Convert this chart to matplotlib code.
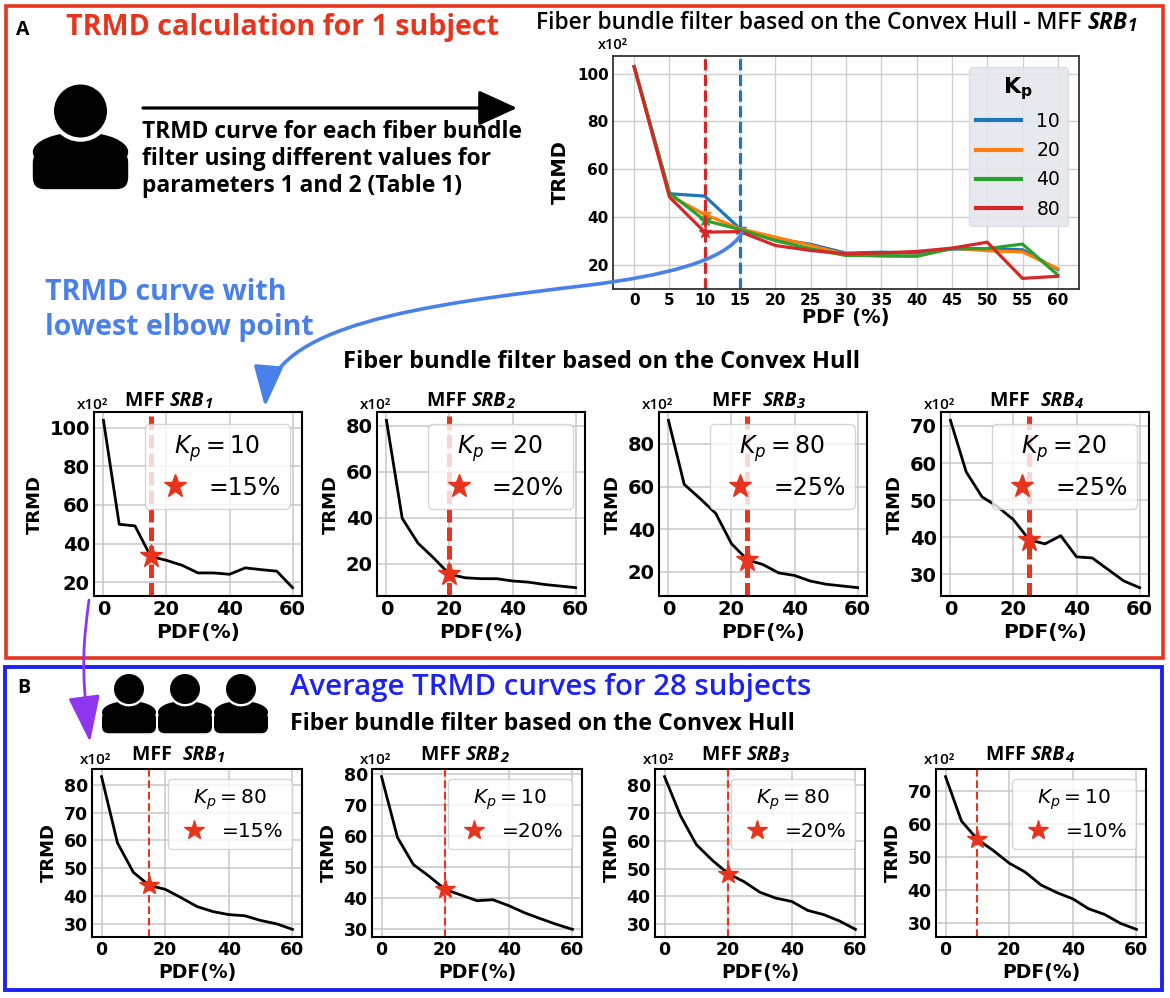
import numpy as np
import matplotlib.pyplot as plt
from matplotlib.patches import Rectangle, Circle, Ellipse, FancyBboxPatch, FancyArrowPatch
from matplotlib.path import Path
from matplotlib.lines import Line2D

W, H = 1170, 998
RED = '#e8341c'
TXT_FONT = 'Open Sans'

# PDF (%) values shared by every curve
pdf = [0, 5, 10, 15, 20, 25, 30, 35, 40, 45, 50, 55, 60]

# top chart: TRMD (x10^2) for each Kp, one subject, MFF SRB1
kp_values = [10, 20, 40, 80]
kp_colors = ['#1f77b4', '#ff7f0e', '#2ca02c', '#d62728']
trmd_kp10 = [103, 49.7, 48.7, 35, 30.8, 28.5, 24.8, 25.2, 24.8, 26.5, 26.6, 26.2, 17.9]
trmd_kp20 = [103, 49, 41, 35, 31.5, 28, 24.2, 23.5, 23.5, 26.9, 25.8, 25.3, 18.3]
trmd_kp40 = [103, 50, 38.5, 34.7, 30, 26.6, 23.8, 23.8, 23.5, 26.7, 26.7, 28.6, 15.6]
trmd_kp80 = [102.8, 48.3, 33.6, 33.8, 28, 25.9, 24.5, 24.9, 25.5, 26.9, 29.4, 14.2, 15.1]
kp_elbow = [15, 10, 10, 10]
top_vlines = [10, 15]
top_vline_colors = ['#d62728', '#1f77b4']

# panel A: best curve per MFF, one subject
a_bundles = ['1', '2', '3', '4']
a_kp = [10, 20, 80, 20]
a_elbow = [15, 20, 25, 25]
a_trmd = [
    [103.7, 50, 49.2, 33.4, 31.4, 28.8, 24.9, 24.9, 24.2, 27.5, 26.6, 25.8, 17.3],
    [82.4, 39.7, 28.9, 22.4, 15.3, 13.8, 13.4, 13.4, 12.4, 11.9, 10.9, 10.2, 9.5],
    [91, 61, 54.4, 47.4, 33.2, 25.7, 23.4, 19.5, 18.3, 15.7, 14.2, 13.4, 12.6],
    [71.5, 57.6, 50.9, 48.2, 44.7, 39.3, 38.2, 40.4, 34.7, 34.4, 31.3, 28.2, 26.4],
]
a_yticks = [[20, 40, 60, 80, 100], [20, 40, 60, 80], [20, 40, 60, 80], [30, 40, 50, 60, 70]]

# panel B: average curves for 28 subjects
b_bundles = ['1', '2', '3', '4']
b_kp = [80, 10, 80, 10]
b_elbow = [15, 20, 20, 10]
b_trmd = [
    [82.9, 59.1, 48.5, 43.8, 42.4, 39.4, 36.2, 34.4, 33.3, 32.9, 31.2, 30, 28],
    [79, 59.5, 50.8, 47, 42.8, 41, 39.2, 39.5, 37.6, 35.3, 33.4, 31.6, 30],
    [83, 69, 58.6, 53, 48.2, 45.3, 41.5, 39.4, 38.2, 35, 33.5, 31.2, 28.2],
    [74.3, 60.9, 55.4, 52, 48.2, 45.5, 41.6, 39.3, 37.4, 34.4, 32.7, 30, 28.2],
]
b_yticks = [[30, 40, 50, 60, 70, 80]] * 3 + [[30, 40, 50, 60, 70]]


def rect(left, top, right, bottom):
    return [left / W, 1 - bottom / H, (right - left) / W, (bottom - top) / H]


def bold_ticks(ax):
    for lab in ax.get_xticklabels() + ax.get_yticklabels():
        lab.set_fontweight('bold')


fig = plt.figure(figsize=(W / 100, H / 100), dpi=100)

# ---- top chart
ax = fig.add_axes(rect(613, 56, 1079, 289))
curves = [trmd_kp10, trmd_kp20, trmd_kp40, trmd_kp80]
for kp, col, y, el in zip(kp_values, kp_colors, curves, kp_elbow):
    ax.plot(pdf, y, color=col, lw=2.3, label=str(kp))
    ax.plot(el, y[pdf.index(el)], marker='*', ms=9, color=col, ls='none')
for xv, col in zip(top_vlines, top_vline_colors):
    ax.axvline(xv, color=col, lw=2.3, ls=(0, (3.5, 1.4)))
ax.set_xticks(pdf)
ax.set_yticks([20, 40, 60, 80, 100])
ax.grid(True, color='#cfcfcf', lw=1)
ax.set_axisbelow(True)
ax.tick_params(length=0, labelsize=11, pad=3)
bold_ticks(ax)
ax.set_xlabel('PDF (%)', fontsize=14, fontweight='bold', labelpad=0)
ax.set_ylabel('TRMD', fontsize=14, fontweight='bold', labelpad=5)
for s in ax.spines.values():
    s.set_color('#333333')
    s.set_linewidth(1.3)
leg = ax.legend(title=r'$\mathbf{K_p}$', loc='upper right', fontsize=13.5, title_fontsize=16,
                facecolor='#e6e6ee', edgecolor='#dcdce4', framealpha=0.9,
                handlelength=2.4, labelspacing=0.55, borderaxespad=0.6)
for line in leg.get_lines():
    line.set_linewidth(3)


def small_chart(box, trmd, kp, elbow, yticks, tick_fs, lab_fs, vl_lw, vl_dash, ms, leg_fs):
    ax = fig.add_axes(rect(*box))
    ax.plot(pdf, trmd, color='black', lw=2)
    ax.axvline(elbow, color=RED, lw=vl_lw, ls=(0, vl_dash))
    ax.plot(elbow, trmd[pdf.index(elbow)], marker='*', ms=ms, color=RED, ls='none', zorder=5)
    ax.set_xticks([0, 20, 40, 60])
    ax.set_yticks(yticks)
    ax.grid(True, color='#c8c8c8', lw=1.1)
    ax.set_axisbelow(True)
    ax.tick_params(length=0, labelsize=tick_fs, pad=3)
    bold_ticks(ax)
    ax.set_xlabel('PDF(%)', fontsize=lab_fs, fontweight='bold', labelpad=3)
    ax.set_ylabel('TRMD', fontsize=13, fontweight='bold', labelpad=4)
    for s in ax.spines.values():
        s.set_color('black')
        s.set_linewidth(1.5)
    h = Line2D([], [], marker='*', ls='none', color=RED, ms=ms)
    ax.legend([h], [f'={elbow}%'], title=f'$K_p = {kp}$', loc='upper right',
              fontsize=leg_fs, title_fontsize=leg_fs, framealpha=0.8,
              handlelength=1.8, handletextpad=0.5, borderaxespad=0.5)
    return ax


a_left = [94, 377, 659, 941]
b_left = [92, 372, 655, 936]
for i in range(4):
    small_chart((a_left[i], 412, a_left[i] + 208, 596), a_trmd[i], a_kp[i], a_elbow[i],
                a_yticks[i], 14, 14.5, 3.6, (2.7, 1.0), 17, 17)
    small_chart((b_left[i], 769, b_left[i] + 210, 937), b_trmd[i], b_kp[i], b_elbow[i],
                b_yticks[i], 12.5, 13.5, 1.5, (3.7, 1.8), 15, 14.5)

# ---- overlay for boxes, icons, arrows and text (pixel coordinates)
ov = fig.add_axes([0, 0, 1, 1], zorder=10)
ov.set_xlim(0, W)
ov.set_ylim(H, 0)
ov.axis('off')
ov.patch.set_alpha(0)

ov.add_patch(Rectangle((6, 6), 1157, 652, fill=False, ec=RED, lw=2.6))
ov.add_patch(Rectangle((5, 667), 1157, 323, fill=False, ec='#1c22f2', lw=2.8))


def person(cx, cy, r):
    top, bottom, bw = cy + 0.8 * r, cy + 2.95 * r, 3.6 * r
    ov.add_patch(Ellipse((cx, top + 0.75 * r), bw, 1.5 * r, fc='black', ec='none'))
    ov.add_patch(FancyBboxPatch((cx - bw / 2, top + 0.7 * r), bw, bottom - top - 0.7 * r,
                                boxstyle=f'round,pad=0,rounding_size={0.45 * r}',
                                fc='black', ec='none'))
    ov.add_patch(Circle((cx, cy), r * 1.16, fc='white', ec='none'))
    ov.add_patch(Circle((cx, cy), r, fc='black', ec='none'))


person(80.5, 111, 26.5)
for cx in [129, 185, 241]:
    person(cx, 689, 15)

# black arrow
ka = FancyArrowPatch((143, 108), (517, 108), arrowstyle='-|>', mutation_scale=20,
                     color='black', lw=2.3, shrinkA=0, shrinkB=0)
ka.set_arrowstyle('-|>', head_length=1.2, head_width=0.55)
ov.add_patch(ka)

# blue curved arrow from the top chart
blue_path = Path([(742, 233), (725, 262), (660, 276), (590, 285),
                  (420, 305), (272, 325), (265, 407)],
                 [Path.MOVETO, Path.CURVE4, Path.CURVE4, Path.CURVE4,
                  Path.CURVE4, Path.CURVE4, Path.CURVE4])
ba = FancyArrowPatch(path=blue_path, arrowstyle='-|>', mutation_scale=20,
                     color='#4a80ea', lw=2.6)
ba.set_arrowstyle('-|>', head_length=1.25, head_width=0.45)
ov.add_patch(ba)

# purple arrow into panel B
purple_path = Path([(89, 600), (84, 640), (80, 665), (90, 742)],
                   [Path.MOVETO, Path.CURVE4, Path.CURVE4, Path.CURVE4])
pa = FancyArrowPatch(path=purple_path, arrowstyle='-|>', mutation_scale=20,
                     color='#8f35f0', lw=2.0)
pa.set_arrowstyle('-|>', head_length=1.45, head_width=0.5)
ov.add_patch(pa)


def txt(x, y, s, size, color='black', weight='bold', ha='left', style='normal'):
    return ov.text(x, y, s, fontsize=size, color=color, fontweight=weight, ha=ha,
                   va='center', family=TXT_FONT, fontstyle=style)


def mff_title(x, y, num, gap, size, text='MFF', weight='bold'):
    t = txt(x, y, text + ' ' * gap, size, weight=weight)
    t2 = ov.annotate('SRB', xy=(1, 0), xycoords=t, va='bottom', fontsize=size,
                     fontweight='bold', fontstyle='italic', family=TXT_FONT)
    ov.annotate(num, xy=(1, 0), xycoords=t2, va='bottom', fontsize=size * 0.75,
                fontweight='bold', fontstyle='italic', family=TXT_FONT)


txt(16, 30, 'A', 14)
txt(66, 27, 'TRMD calculation for 1 subject', 20.6, color=RED)
mff_title(536, 23, '1', 1, 16.4, text='Fiber bundle filter based on the Convex Hull - MFF',
          weight='semibold')
txt(598, 45, 'x10²', 10.5, weight='semibold')

for y, line in zip([132, 159, 186], ['TRMD curve for each fiber bundle',
                                     'filter using different values for',
                                     'parameters 1 and 2 (Table 1)']):
    txt(142, y, line, 16.4)

txt(45, 293, 'TRMD curve with', 20.5, color='#4a80ea')
txt(45, 328, 'lowest elbow point', 20.5, color='#4a80ea')
txt(343, 362, 'Fiber bundle filter based on the Convex Hull', 17)

a_title_x = [125, 427, 712, 990]
a_gap = [1, 1, 2, 2]
for i in range(4):
    mff_title(a_title_x[i], 401, a_bundles[i], a_gap[i], 14)
    txt(a_left[i] - 17, 405, 'x10²', 11, weight='semibold')

txt(17, 688, 'B', 14)
txt(290, 687, 'Average TRMD curves for 28 subjects', 21.2, color='#1c22f2', weight='semibold')
txt(290, 724, 'Fiber bundle filter based on the Convex Hull', 16.7)

b_title_x = [132, 421, 702, 986]
b_gap = [2, 1, 1, 1]
for i in range(4):
    mff_title(b_title_x[i], 755, b_bundles[i], b_gap[i], 14)
    txt(b_left[i] - 12, 760, 'x10²', 11, weight='semibold')

fig.savefig('out.png', dpi=100)
